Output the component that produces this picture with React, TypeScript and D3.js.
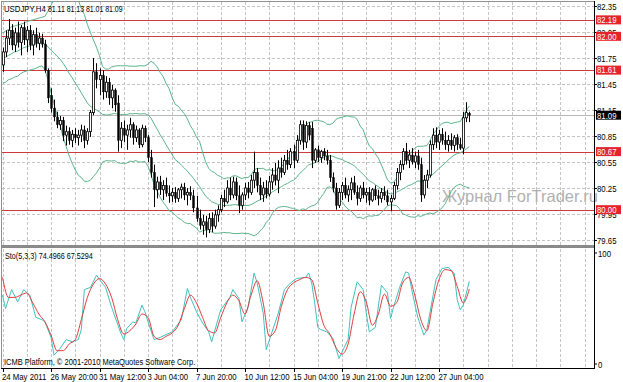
import React from "react";
import * as d3 from "d3";

const opens = [81.67,81.82,81.98,82.07,81.90,82.04,81.93,82.10,81.96,82.07,
81.90,82.02,81.92,81.98,81.91,81.61,81.32,81.17,81.07,80.98,
81.03,80.86,80.90,80.80,80.87,80.83,80.86,80.92,80.80,80.90,
81.12,81.59,81.50,81.55,81.36,81.47,81.29,81.38,81.23,80.80,
80.94,80.86,80.92,80.98,80.83,80.92,80.75,80.94,80.83,80.60,
80.43,80.23,80.32,80.23,80.28,80.19,80.16,80.20,80.13,80.23,
80.26,80.17,80.20,80.16,80.02,79.90,79.82,79.86,79.77,79.90,
79.81,79.94,80.00,80.13,80.09,80.25,80.17,80.32,80.16,80.05,
80.17,80.25,80.20,80.34,80.43,80.28,80.17,80.25,80.18,80.32,
80.40,80.34,80.48,80.43,80.57,80.52,80.67,80.57,80.80,80.98,
80.78,80.97,80.94,80.57,80.69,80.60,80.67,80.62,80.57,80.37,
80.25,80.05,80.20,80.28,80.17,80.23,80.31,80.20,80.13,80.25,
80.17,80.20,80.11,80.23,80.16,80.13,80.20,80.16,80.09,80.13,
80.28,80.43,80.52,80.67,80.57,80.63,80.55,80.62,80.52,80.17,
80.34,80.40,80.75,80.86,80.78,80.87,80.80,80.75,80.80,80.74,
80.83,80.75,80.71,81.06,81.11];

const highs = [81.87,82.07,82.20,82.14,82.10,82.17,82.13,82.17,82.12,82.13,
82.07,82.10,82.04,82.03,81.96,81.63,81.40,81.27,81.13,81.08,
81.07,80.97,80.95,80.92,80.94,80.92,80.98,80.97,80.94,81.15,
81.75,81.69,81.63,81.61,81.54,81.52,81.44,81.40,81.32,81.01,
81.03,80.98,81.06,81.01,80.97,80.94,80.98,80.97,80.86,80.69,
80.52,80.38,80.39,80.34,80.37,80.28,80.25,80.26,80.25,80.30,
80.31,80.25,80.27,80.23,80.16,80.00,79.94,79.93,79.96,79.97,
80.00,80.05,80.17,80.23,80.34,80.37,80.38,80.37,80.28,80.20,
80.31,80.32,80.40,80.67,80.48,80.37,80.32,80.34,80.39,80.48,
80.54,80.57,80.60,80.63,80.69,80.71,80.75,80.86,81.03,81.03,
81.02,81.01,81.01,80.71,80.74,80.69,80.71,80.69,80.63,80.43,
80.31,80.25,80.32,80.37,80.28,80.37,80.39,80.28,80.28,80.32,
80.25,80.26,80.25,80.28,80.23,80.25,80.27,80.23,80.17,80.32,
80.48,80.57,80.71,80.77,80.69,80.71,80.67,80.69,80.60,80.40,
80.46,80.80,80.94,80.95,80.92,80.94,80.90,80.86,80.88,80.86,
80.87,80.83,81.13,81.24,81.13];

const lows = [81.59,81.76,81.90,81.84,81.82,81.87,81.78,81.90,81.82,81.84,
81.78,81.87,81.84,81.87,81.58,81.23,81.12,81.02,80.94,80.92,
80.79,80.74,80.75,80.72,80.77,80.74,80.78,80.71,80.75,80.84,
81.09,81.40,81.32,81.27,81.29,81.21,81.17,81.13,80.67,80.71,
80.78,80.69,80.83,80.75,80.78,80.71,80.72,80.78,80.55,80.37,
80.03,80.13,80.17,80.11,80.15,80.08,80.09,80.08,80.09,80.13,
80.11,80.05,80.11,79.97,79.86,79.77,79.71,79.68,79.73,79.74,
79.78,79.86,79.97,80.03,80.07,80.11,80.13,80.11,79.96,80.00,
80.11,80.13,80.17,80.25,80.20,80.11,80.09,80.13,80.15,80.23,
80.28,80.19,80.37,80.40,80.46,80.48,80.48,80.54,80.75,80.69,
80.71,80.80,80.48,80.54,80.55,80.54,80.57,80.52,80.32,80.20,
80.00,80.02,80.11,80.13,80.09,80.11,80.17,80.05,80.09,80.13,
80.08,80.05,80.09,80.11,80.05,80.08,80.11,80.05,79.98,80.11,
80.23,80.34,80.46,80.52,80.48,80.52,80.48,80.46,80.09,80.13,
80.25,80.37,80.69,80.71,80.69,80.75,80.69,80.67,80.69,80.67,
80.69,80.69,80.64,81.01,81.01];

const closes = [81.82,81.98,82.07,81.90,82.04,81.93,82.10,81.96,82.07,81.90,
82.02,81.92,81.98,81.91,81.61,81.29,81.17,81.07,80.98,81.03,
80.86,80.90,80.80,80.87,80.83,80.86,80.92,80.80,80.90,81.12,
81.59,81.50,81.55,81.36,81.47,81.29,81.38,81.21,80.80,80.94,
80.86,80.92,80.98,80.83,80.92,80.75,80.94,80.83,80.60,80.43,
80.23,80.32,80.23,80.28,80.19,80.16,80.20,80.13,80.23,80.26,
80.17,80.20,80.16,80.02,79.90,79.82,79.86,79.77,79.90,79.81,
79.94,80.00,80.13,80.09,80.25,80.17,80.32,80.16,80.05,80.17,
80.25,80.20,80.34,80.43,80.28,80.17,80.25,80.18,80.32,80.40,
80.34,80.48,80.43,80.57,80.52,80.67,80.57,80.80,80.98,80.78,
80.97,80.86,80.57,80.69,80.60,80.67,80.62,80.57,80.37,80.25,
80.05,80.20,80.28,80.17,80.23,80.31,80.20,80.13,80.25,80.17,
80.20,80.11,80.23,80.16,80.13,80.20,80.16,80.09,80.13,80.28,
80.43,80.52,80.67,80.57,80.63,80.55,80.62,80.52,80.17,80.34,
80.40,80.75,80.86,80.78,80.87,80.80,80.75,80.80,80.74,80.83,
80.75,80.71,81.06,81.12,81.09];

// Bollinger Bands (20, 2): first 19 bars (their window starts before the visible data)
const bbPeriod = 20;
const bbDeviations = 2;
const bbHeadUpper = [82.04,82.06,82.08,82.11,82.12,82.13,82.14,82.15,82.17,82.18,82.19,82.20,82.21,82.22,82.23,82.29,82.36,82.42,82.47];
const bbHeadMiddle = [81.75,81.76,81.78,81.80,81.82,81.83,81.85,81.87,81.88,81.89,81.90,81.91,81.92,81.93,81.91,81.88,81.84,81.81,81.77];
const bbHeadLower = [81.46,81.47,81.50,81.51,81.53,81.54,81.57,81.59,81.60,81.61,81.62,81.63,81.65,81.66,81.61,81.50,81.35,81.22,81.09];

// Stochastic (5,3,3)
const kBars = [0,1,3,5,7,9,11,13,14,16,17,19,21,23,25,26,27,29,31,32,34,36,39,40,41,43,44,46,47,48,50,52,56,59,61,62,64,66,68,69,72,75,76,78,79,81,83,84,86,87,91,93,95,97,100,101,102,103,104,105,107,109,111,114,115,117,119,120,121,123,125,127,128,129,131,133,134,135,137,139,140,143,145,147,149,150,151,152,154];
const kValues = [62,50,67,56,67,62,42,40,38,24,8,14,22,20,22,31,67,69,80,76,69,51,28,22,32,38,37,53,47,38,22,24,29,40,68,60,47,37,29,20,49,60,67,59,38,51,82,73,46,13,46,67,73,77,78,82,73,55,33,31,29,23,5,22,51,74,67,46,29,33,71,64,41,51,69,83,82,67,42,26,31,76,86,87,82,58,49,53,74.5];
const dBars = [0,2,4,6,8,10,12,14,16,18,20,22,24,26,28,30,32,34,36,38,40,42,44,46,48,50,52,54,56,58,60,62,64,66,68,70,72,74,76,78,80,82,84,86,88,90,92,94,96,98,100,102,104,106,108,110,112,114,116,118,120,122,124,126,128,130,132,134,136,138,140,142,144,146,148,150,152,154];
const dValues = [78,60,60,62,64,55,45,38,26,12,12,18,22,40,60,72,77,72,60,40,27,30,36,45,42,25,22,25,28,35,50,62,55,42,30,28,42,55,62,57,45,62,75,55,25,30,52,67,73,76,78,76,55,35,27,15,9,18,45,65,56,35,45,63,52,55,73,78,62,40,30,55,76,85,84,70,55,67.5];

const priceTicks = [82.35, 82.05, 81.75, 81.45, 81.15, 80.85, 80.55, 80.25, 79.95, 79.65];
const levels = [82.19, 82.0, 81.61, 80.67, 80.0];
const currentPrice = 81.09;
const timeLabels = ["24 May 2011", "26 May 20:00", "31 May 12:00", "3 Jun 04:00", "7 Jun 20:00", "10 Jun 12:00", "15 Jun 04:00", "19 Jun 21:00", "22 Jun 12:00", "27 Jun 04:00"];
const timeLabelBars = [0, 16, 32, 48, 64, 80, 96, 112, 128, 144];
const gridBars = d3.range(0, 200, 8);

const FONT = "'Liberation Sans', Arial, sans-serif";

function T(props: any) {
  const { x, y, children, size = 9.5, fill = "#000", sx = 0.82, anchor = "start" } = props;
  return (
    <text transform={`translate(${x},${y}) scale(${sx},1)`} fontSize={size} fill={fill} fontFamily={FONT} textAnchor={anchor}>
      {children}
    </text>
  );
}

function bollinger() {
  const up: number[] = [], mid: number[] = [], lo: number[] = [];
  closes.forEach((_, i) => {
    if (i < bbPeriod - 1) {
      up.push(bbHeadUpper[i]); mid.push(bbHeadMiddle[i]); lo.push(bbHeadLower[i]);
    } else {
      const w = closes.slice(i - bbPeriod + 1, i + 1);
      const m = d3.mean(w) as number;
      const sd = Math.sqrt(d3.mean(w, (v) => (v - m) * (v - m)) as number);
      up.push(m + bbDeviations * sd); mid.push(m); lo.push(m - bbDeviations * sd);
    }
  });
  return { up, mid, lo };
}

export default function App() {
  const W = 623, H = 382;
  const x = d3.scaleLinear().domain([0, 16]).range([2.5, 51]);
  const y = d3.scaleLinear().domain([79.65, 82.35]).range([240, 6]);
  const ys = d3.scaleLinear().domain([0, 100]).range([364, 253]);

  const bb = bollinger();
  const bandLine = (vals: number[]) =>
    d3.line<number>().x((_, i) => x(i)).y((d) => y(d)).curve(d3.curveLinear)(vals) || "";
  const kPath = d3.line<number>().x((_, i) => x(kBars[i])).y((d) => ys(d)).curve(d3.curveLinear)(kValues) || "";
  const dPath = d3.line<number>().x((_, i) => x(dBars[i])).y((d) => ys(d)).curve(d3.curveMonotoneX)(dValues) || "";

  const right = 594;
  const gridColor = "#c4c4c4";

  return (
    <svg width={W} height={H} viewBox={`0 0 ${W} ${H}`} style={{ position: "fixed", left: 0, top: 0, background: "#fff" }}>
      <defs>
        <clipPath id="mainClip"><rect x={2} y={2} width={right - 2} height={243} /></clipPath>
        <clipPath id="subClip"><rect x={2} y={249} width={right - 2} height={118} /></clipPath>
      </defs>
      <rect x={0} y={0} width={W} height={H} fill="#fff" />

      <g stroke={gridColor} strokeWidth={1} strokeDasharray="3,2" shapeRendering="crispEdges">
        {priceTicks.map((p) => (
          <line key={"h" + p} x1={2} x2={right} y1={Math.round(y(p)) + 0.5} y2={Math.round(y(p)) + 0.5} />
        ))}
        {gridBars.filter((b) => x(b) < right).map((b) => (
          <line key={"v" + b} x1={Math.round(x(b)) + 0.5} x2={Math.round(x(b)) + 0.5} y1={2} y2={245} />
        ))}
        {gridBars.filter((b) => x(b) < right).map((b) => (
          <line key={"vs" + b} x1={Math.round(x(b)) + 0.5} x2={Math.round(x(b)) + 0.5} y1={249} y2={367} />
        ))}
      </g>

      <line x1={2} x2={right} y1={Math.round(y(currentPrice)) + 0.5} y2={Math.round(y(currentPrice)) + 0.5} stroke="#b8b8b8" strokeWidth={1} />

      <g stroke="#cc3b3b" strokeWidth={1} shapeRendering="crispEdges">
        {levels.map((p) => (
          <line key={"l" + p} x1={2} x2={right} y1={Math.round(y(p)) + 0.5} y2={Math.round(y(p)) + 0.5} />
        ))}
      </g>

      <text x={442} y={202} fontSize={16.5} fill="#b0b0b0" fontFamily={FONT}>Журнал ForTrader.ru</text>

      <g clipPath="url(#mainClip)">
        <g fill="none" stroke="#5cb48c" strokeWidth={1}>
          <path d={bandLine(bb.up)} />
          <path d={bandLine(bb.mid)} />
          <path d={bandLine(bb.lo)} />
        </g>
        {opens.map((o, i) => {
          const c = closes[i];
          const cx = Math.round(x(i)) + 0.5;
          const top = y(Math.max(o, c));
          const bot = y(Math.min(o, c));
          const bull = c >= o;
          return (
            <g key={"c" + i}>
              <line x1={cx} x2={cx} y1={y(highs[i])} y2={y(lows[i])} stroke="#000" strokeWidth={1} />
              <rect x={cx - 1} y={top} width={2} height={Math.max(1, bot - top)} fill={bull ? "#fff" : "#000"} stroke="#000" strokeWidth={bull ? 0.8 : 0.4} />
            </g>
          );
        })}
      </g>

      <g clipPath="url(#subClip)" fill="none" strokeWidth={1}>
        <path d={kPath} stroke="#3fc2bd" />
        <path d={dPath} stroke="#e23b3b" />
      </g>

      <g fill="none" shapeRendering="crispEdges">
        <line x1={1.5} x2={1.5} y1={1} y2={368} stroke="#909090" />
        <line x1={1} x2={right} y1={1.5} y2={1.5} stroke="#909090" />
        <rect x={1} y={245} width={right - 1} height={3} fill="#8a8a8a" stroke="none" />
        <line x1={right + 0.5} x2={right + 0.5} y1={1} y2={369} stroke="#000" />
        <line x1={1} x2={right + 1} y1={368.5} y2={368.5} stroke="#000" />
      </g>

      {priceTicks.map((p) => (
        <g key={"pt" + p}>
          <line x1={right} x2={right + 3} y1={Math.round(y(p)) + 0.5} y2={Math.round(y(p)) + 0.5} stroke="#000" />
          <T x={597} y={y(p) + 3.5}>{p.toFixed(2)}</T>
        </g>
      ))}
      {levels.map((p) => (
        <g key={"lb" + p}>
          <rect x={596} y={y(p) - 4.5} width={25} height={9} fill="#e5232b" />
          <T x={597} y={y(p) + 3.3} fill="#fff">{p.toFixed(2)}</T>
        </g>
      ))}
      <rect x={596} y={y(currentPrice) - 4.5} width={25} height={9} fill="#000" />
      <T x={597} y={y(currentPrice) + 3.3} fill="#fff">{currentPrice.toFixed(2)}</T>

      <line x1={right} x2={right + 3} y1={ys(100)} y2={ys(100)} stroke="#000" />
      <line x1={right} x2={right + 3} y1={ys(0)} y2={ys(0)} stroke="#000" />
      <T x={598} y={ys(100) + 3.5}>100</T>
      <T x={598} y={ys(0) + 3.5}>0</T>

      {timeLabelBars.map((b, i) => (
        <g key={"tl" + b}>
          <line x1={Math.round(x(b)) + 0.5} x2={Math.round(x(b)) + 0.5} y1={368} y2={372} stroke="#000" />
          <T x={x(b) - 0.5} y={379.5}>{timeLabels[i]}</T>
        </g>
      ))}

      <T x={4} y={12}>USDJPY,H4</T>
      <T x={48} y={12} sx={0.73}>81.11 81.13 81.01 81.09</T>
      <T x={5} y={259} sx={0.76}>Sto(5,3,3) 74.4966 67.5294</T>
      <T x={4} y={365} sx={0.79}>ICMB Platform, © 2001-2010 MetaQuotes Software Corp.</T>
    </svg>
  );
}
